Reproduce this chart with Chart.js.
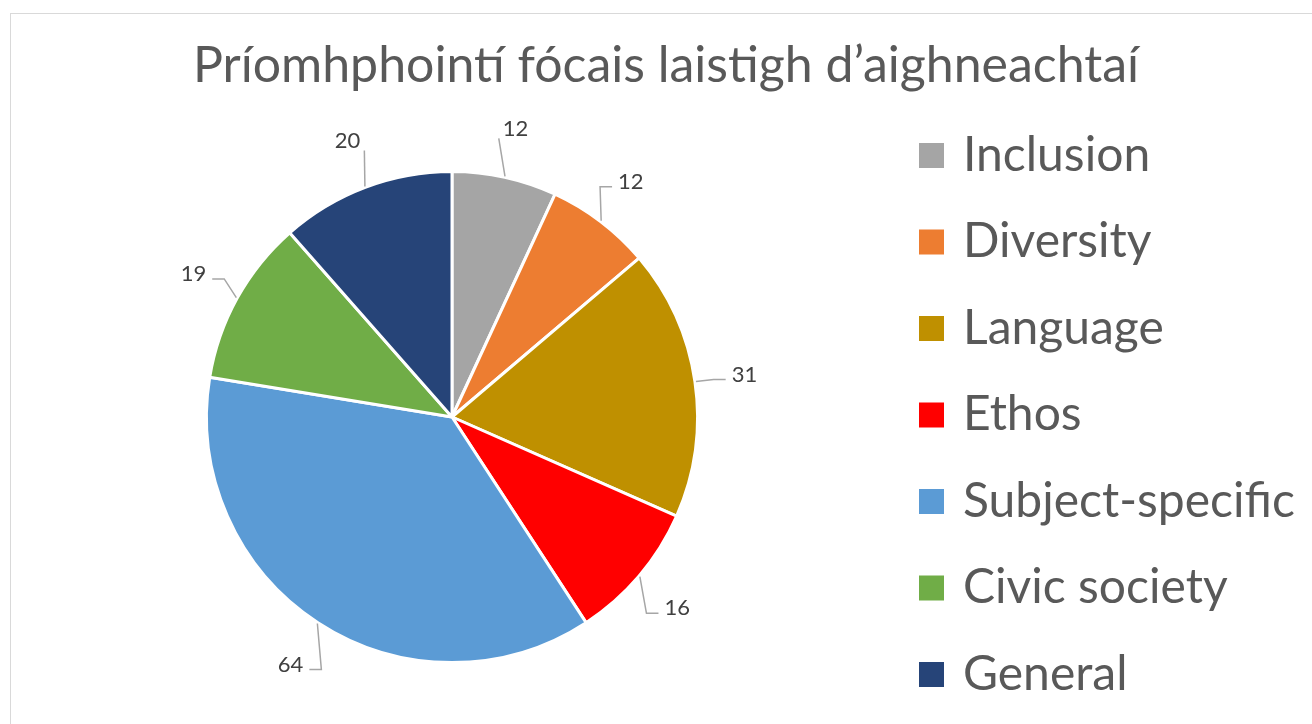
<!DOCTYPE html>
<html>
<head>
<meta charset="utf-8">
<script src="https://cdn.jsdelivr.net/npm/chart.js@4/dist/chart.umd.min.js"></script>
<style>
  html, body { margin: 0; padding: 0; background: #fff; overflow: hidden; }
  #frame { position: absolute; left: 10px; top: 13px; width: 1330px; height: 740px; border: 1px solid #d9d9d9; }
  #chart { position: absolute; left: 0; top: 0; }
</style>
</head>
<body>
<div id="frame"></div>
<canvas id="chart" width="1312" height="724"></canvas>
<script>
// data
const chartTitle = 'Príomhphointí fócais laistigh d’aighneachtaí';
const categories = ['Inclusion', 'Diversity', 'Language', 'Ethos', 'Subject-specific', 'Civic society', 'General'];
const counts = [12, 12, 31, 16, 64, 19, 20];
const sliceColors = ['#A5A5A5', '#ED7D31', '#BF9000', '#FF0000', '#5B9BD5', '#70AD47', '#264478'];

const FONT = 'Lato, "Open Sans", sans-serif';

// title across the whole frame (chart.js title would only span the padded area)
const frameTitle = {
    id: 'frameTitle',
    afterDraw(chart) {
        const ctx = chart.ctx;
        ctx.save();
        ctx.font = '50px ' + FONT;
        ctx.fillStyle = '#595959';
        ctx.textAlign = 'center';
        ctx.textBaseline = 'middle';
        ctx.fillText(chartTitle, chart.width / 2 + 10, 66);
        ctx.restore();
    }
};

// value labels with leader lines, excel style
const pieLabels = {
    id: 'pieLabels',
    afterDatasetsDraw(chart) {
        const ctx = chart.ctx;
        const meta = chart.getDatasetMeta(0);
        const values = chart.data.datasets[0].data;
        ctx.save();
        ctx.font = '22px ' + FONT;
        ctx.textAlign = 'center';
        ctx.textBaseline = 'middle';
        meta.data.forEach((arc, i) => {
            const p = arc.getProps(['x', 'y', 'startAngle', 'endAngle', 'outerRadius'], true);
            const mid = (p.startAngle + p.endAngle) / 2;
            const cos = Math.cos(mid), sin = Math.sin(mid);
            const ex = p.x + cos * (p.outerRadius + 1);
            const ey = p.y + sin * (p.outerRadius + 1);
            const lx = p.x + cos * (p.outerRadius + 50);
            const ly = p.y + sin * (p.outerRadius + 50);
            const text = String(values[i]);
            const tw = ctx.measureText(text).width;
            const side = cos >= 0 ? 1 : -1;

            ctx.strokeStyle = '#A6A6A6';
            ctx.lineWidth = 1.5;
            ctx.beginPath();
            if (Math.abs(cos) < 0.4) {
                // near top / bottom: straight line to the nearest bottom corner
                const tx = lx - side * (tw / 2 + 4);
                const ty = ly + (sin < 0 ? 10 : -10);
                ctx.moveTo(ex, ey);
                ctx.lineTo(tx, ty);
            } else {
                const bx = lx - side * (tw / 2 + 6 + 12);
                const by = ly + 5;
                ctx.moveTo(ex, ey);
                ctx.lineTo(bx, by);
                ctx.lineTo(bx + side * 12, by);
            }
            ctx.stroke();

            ctx.fillStyle = '#404040';
            ctx.fillText(text, lx, ly);
        });
        ctx.restore();
    }
};

// legend drawn by hand so it can run taller than the chart area
const sideLegend = {
    id: 'sideLegend',
    afterDraw(chart) {
        const ctx = chart.ctx;
        const area = chart.chartArea;
        const labels = chart.data.labels;
        const colors = chart.data.datasets[0].backgroundColor;
        const step = 86.5;
        const box = 25;
        const x0 = area.right + 15;
        const cy = (area.top + area.bottom) / 2;
        const y0 = cy - step * (labels.length - 1) / 2 - 2;
        ctx.save();
        ctx.font = '48px ' + FONT;
        ctx.textAlign = 'left';
        ctx.textBaseline = 'middle';
        labels.forEach((lab, i) => {
            const y = y0 + i * step;
            ctx.fillStyle = colors[i];
            ctx.fillRect(x0, y - box / 2, box, box);
            ctx.fillStyle = '#595959';
            ctx.fillText(lab, x0 + box + 19, y);
        });
        ctx.restore();
    }
};

new Chart(document.getElementById('chart'), {
    type: 'pie',
    data: {
        labels: categories,
        datasets: [{
            data: counts,
            backgroundColor: sliceColors,
            borderColor: '#ffffff',
            borderWidth: 3
        }]
    },
    options: {
        responsive: false,
        animation: false,
        devicePixelRatio: 1,
        layout: { padding: { left: 0, right: 408, top: 170, bottom: 60 } },
        plugins: {
            legend: { display: false },
            tooltip: { enabled: false },
            title: { display: false }
        }
    },
    plugins: [pieLabels, sideLegend, frameTitle]
});
</script>
</body>
</html>
